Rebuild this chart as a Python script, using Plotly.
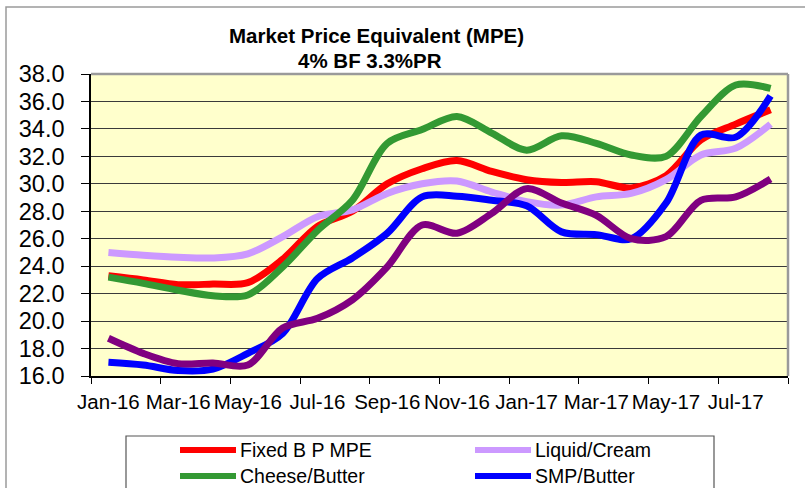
import plotly.graph_objects as go

months = ["Jan-16", "Feb-16", "Mar-16", "Apr-16", "May-16", "Jun-16", "Jul-16", "Aug-16",
          "Sep-16", "Oct-16", "Nov-16", "Dec-16", "Jan-17", "Feb-17", "Mar-17", "Apr-17",
          "May-17", "Jun-17", "Jul-17", "Aug-17"]

fixed_bp_mpe = [23.3, 23.0, 22.65, 22.7, 22.8, 24.5, 26.9, 28.0, 30.0, 31.1, 31.7, 30.9,
                30.3, 30.1, 30.15, 29.7, 30.6, 33.2, 34.35, 35.4]
liquid_cream = [25.0, 24.8, 24.65, 24.6, 24.9, 26.15, 27.6, 28.1, 29.3, 30.0, 30.2, 29.4,
                28.7, 28.45, 29.05, 29.3, 30.3, 32.1, 32.6, 34.35]
cheese_butter = [23.2, 22.75, 22.25, 21.85, 21.9, 23.95, 26.6, 28.8, 32.95, 33.95, 34.9, 33.7,
                 32.45, 33.5, 32.95, 32.1, 32.0, 34.9, 37.2, 36.95]
smp_butter = [17.0, 16.8, 16.4, 16.5, 17.65, 19.1, 23.1, 24.6, 26.4, 29.05, 29.1, 28.8,
              28.4, 26.5, 26.3, 26.0, 28.6, 33.55, 33.4, 36.4]
other_series = [18.75, 17.65, 16.9, 16.95, 16.8, 19.5, 20.2, 21.55, 23.95, 27.0, 26.4, 27.85,
                29.65, 28.6, 27.7, 26.0, 26.15, 28.8, 29.05, 30.35]

series_names = ["Fixed B P MPE", "Liquid/Cream", "Cheese/Butter", "SMP/Butter", "Cheese/Whey"]
series_values = [fixed_bp_mpe, liquid_cream, cheese_butter, smp_butter, other_series]
series_colors = ["#FF0000", "#CC99FF", "#339933", "#0000FF", "#800080"]
# the visible part of the legend shows the first four series only (the fifth row is cropped)
legend_visible = 4

title_lines = ["Market Price Equivalent (MPE)", "4% BF 3.3%PR"]

y_ticks = [16 + 2 * k for k in range(12)]

FONT = "Liberation Sans, Arial, sans-serif"

# layout geometry (pixels)
W, H = 805, 488
L, R, T, B = 91, 17, 74, 112
PW, PH = W - L - R, H - T - B


def px_x(x):
    return (x - L) / PW


def px_y(y):
    return (H - B - y) / PH


xs = list(range(len(months)))
fig = go.Figure()
for name, vals, col in zip(series_names, series_values, series_colors):
    fig.add_trace(go.Scatter(
        x=xs, y=vals, name=name, mode="lines",
        line=dict(color=col, width=7, shape="spline", smoothing=0.9),
        showlegend=False, hoverinfo="x+y+name"))

label_idx = list(range(0, len(months), 2))
boundaries = [i - 0.5 for i in range(0, len(months) + 1, 2)]

fig.update_xaxes(
    range=[-0.5, len(months) - 0.5],
    tickmode="array", tickvals=label_idx, ticktext=[months[i] for i in label_idx],
    ticks="", showgrid=False, zeroline=False, tickangle=0,
    showline=True, linecolor="#000000", linewidth=1.5,
    tickfont=dict(family=FONT, size=20.5, color="#000000"),
    ticklabelstandoff=7,
    minor=dict(tickmode="array", tickvals=boundaries, ticks="outside", ticklen=6,
               tickcolor="#000000", tickwidth=1, showgrid=False),
)
fig.update_yaxes(
    range=[16, 38], tickmode="array", tickvals=y_ticks,
    ticktext=[f"{v:.1f}" for v in y_ticks],
    ticks="outside", ticklen=8, tickcolor="#000000", tickwidth=1,
    showgrid=True, gridcolor="#3a3a3a", gridwidth=1, zeroline=False,
    showline=True, linecolor="#000000", linewidth=1.5,
    tickfont=dict(family=FONT, size=23.5, color="#000000"),
    ticklabelstandoff=12,
)

shapes = []
# top and right plot borders (gray)
shapes.append(dict(type="line", xref="paper", yref="paper", x0=0, x1=1, y0=1, y1=1,
                   line=dict(color="#9a9a9a", width=2.5), layer="above"))
shapes.append(dict(type="line", xref="paper", yref="paper", x0=1, x1=1, y0=0, y1=1,
                   line=dict(color="#9a9a9a", width=2.5), layer="above"))
# outer chart border
shapes.append(dict(type="rect", xref="paper", yref="paper",
                   x0=px_x(6), x1=px_x(812), y0=px_y(495), y1=px_y(7),
                   line=dict(color="#9a9a9a", width=1.5), layer="below"))
# legend box (bottom edge lies below the visible page, as in the original)
shapes.append(dict(type="rect", xref="paper", yref="paper",
                   x0=px_x(126), x1=px_x(714), y0=px_y(520), y1=px_y(436),
                   line=dict(color="#555555", width=1.2), fillcolor="rgba(0,0,0,0)"))

annotations = []
leg_cols_x = [180, 475]
leg_rows_y = [450, 476]
for k in range(legend_visible):
    name, col = series_names[k], series_colors[k]
    cx = leg_cols_x[k % 2]
    cy = leg_rows_y[k // 2]
    shapes.append(dict(type="line", xref="paper", yref="paper",
                       x0=px_x(cx), x1=px_x(cx + 56), y0=px_y(cy), y1=px_y(cy),
                       line=dict(color=col, width=6)))
    annotations.append(dict(xref="paper", yref="paper", x=px_x(cx + 58), y=px_y(cy),
                            xanchor="left", yanchor="middle", text=name, showarrow=False,
                            font=dict(family=FONT, size=19.5, color="#000000")))

# two-line chart title
for text, cx, cy in zip(title_lines, [376, 370], [35.5, 60]):
    annotations.append(dict(xref="paper", yref="paper", x=px_x(cx), y=px_y(cy),
                            xanchor="center", yanchor="middle", text=f"<b>{text}</b>",
                            showarrow=False,
                            font=dict(family=FONT, size=20.5, color="#000000")))

fig.update_layout(
    width=W, height=H,
    margin=dict(l=L, r=R, t=T, b=B),
    paper_bgcolor="#FFFFFF", plot_bgcolor="#FFFFCC",
    shapes=shapes, annotations=annotations,
    showlegend=False,
)

fig.write_html("out.html", config={"displayModeBar": False},
               post_script="document.body.style.margin='0';")
